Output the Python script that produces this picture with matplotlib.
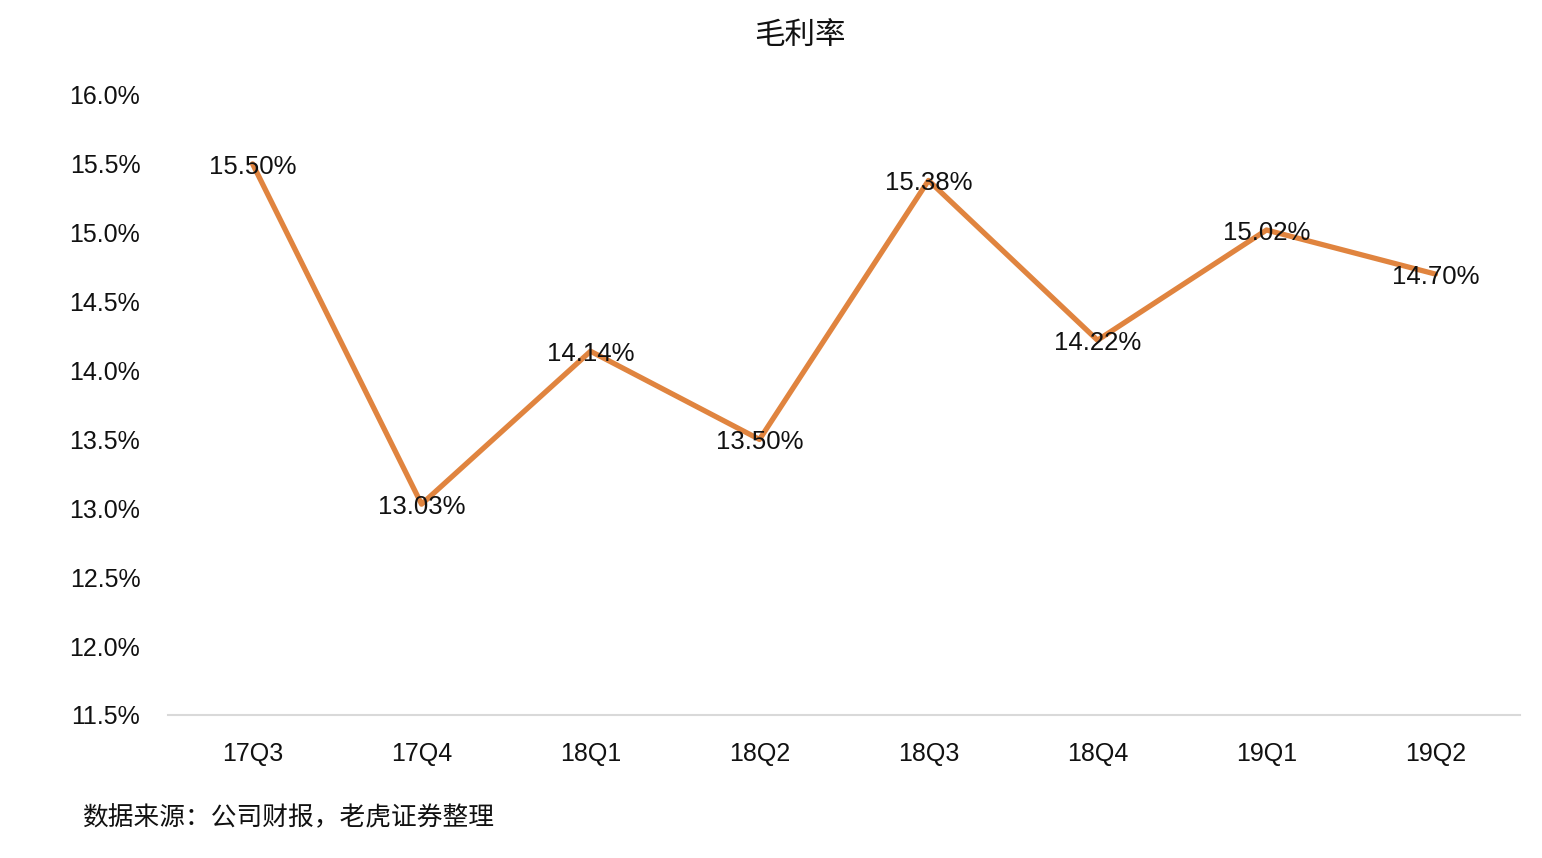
import matplotlib.pyplot as plt
from matplotlib.ticker import FuncFormatter

plt.rcParams['font.family'] = ['Liberation Sans', 'Noto Sans CJK SC', 'DejaVu Sans']

quarters = ['17Q3', '17Q4', '18Q1', '18Q2', '18Q3', '18Q4', '19Q1', '19Q2']
margin = [15.50, 13.03, 14.14, 13.50, 15.38, 14.22, 15.02, 14.70]
yticks = [11.5, 12.0, 12.5, 13.0, 13.5, 14.0, 14.5, 15.0, 15.5, 16.0]


def main():
    fig = plt.figure(figsize=(15.42, 8.58), dpi=100)
    ax = fig.add_axes([0.109, 0.1667, 0.8767, 0.7226])

    x = list(range(len(quarters)))
    ax.plot(x, margin, color='#E0843F', linewidth=3.8, solid_capstyle='round')

    for xi, v in zip(x, margin):
        ax.annotate('%.2f%%' % v, (xi, v), xytext=(0, -2), textcoords='offset points',
                    ha='center', va='center', fontsize=18.5, color='#111111')

    ax.set_xlim(-0.5, len(quarters) - 0.5)
    ax.set_ylim(11.5, 16.0)
    ax.set_xticks(x)
    ax.set_xticklabels(quarters)
    ax.set_yticks(yticks)
    ax.yaxis.set_major_formatter(FuncFormatter(lambda v, p: '%.1f%%' % v))
    ax.tick_params(axis='both', length=0, labelsize=18, colors='#111111')
    ax.tick_params(axis='y', pad=20)
    ax.tick_params(axis='x', pad=19.5)

    for s in ['top', 'right', 'left']:
        ax.spines[s].set_visible(False)
    ax.spines['bottom'].set_color('#D9D9D9')
    ax.spines['bottom'].set_linewidth(1.5)

    fig.text(800 / 1542, 1 - 36 / 858, '毛利率', ha='center', va='center', fontsize=22,
             color='#111111', family=['Noto Sans CJK SC'], weight='medium')
    fig.text(82 / 1542, 1 - 818 / 858, '数据来源：公司财报，老虎证券整理', ha='left', va='center',
             fontsize=18.5, color='#111111', family=['Noto Sans CJK SC'])

    fig.savefig('out.png', dpi=100)


if __name__ == '__main__':
    main()
